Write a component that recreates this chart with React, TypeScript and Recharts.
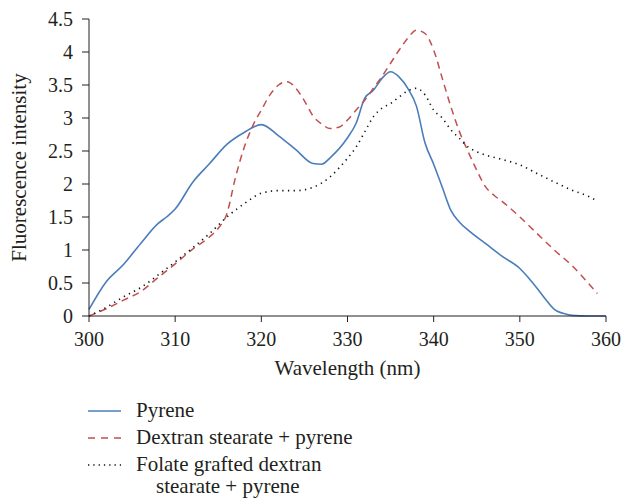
import { Label, Line, LineChart, XAxis, YAxis } from 'recharts'

// wavelength (nm) / intensity pairs
const pyreneNm = [300, 302, 304, 306, 308, 309, 310, 312, 314, 316, 318, 320, 322, 324, 326, 327, 328, 330, 331, 332, 333, 334, 335, 336, 337, 338, 339, 340, 341, 342, 343, 344, 346, 348, 350, 351, 352, 353, 354, 355, 356, 358, 360]
const pyrene = [0.1, 0.52, 0.78, 1.1, 1.4, 1.5, 1.62, 2.02, 2.31, 2.6, 2.78, 2.9, 2.73, 2.52, 2.31, 2.3, 2.4, 2.7, 2.92, 3.3, 3.42, 3.6, 3.7, 3.62, 3.45, 3.18, 2.62, 2.3, 1.95, 1.6, 1.42, 1.3, 1.1, 0.9, 0.72, 0.58, 0.42, 0.25, 0.1, 0.04, 0.01, 0, 0]

const dextranNm = [300, 302, 304, 306, 308, 310, 312, 314, 315, 316, 317, 318, 319, 320, 321, 322, 323, 324, 325, 326, 327, 328, 329, 330, 331, 332, 333, 334, 335, 336, 337, 338, 339, 340, 341, 342, 343, 344, 345, 346, 347, 348, 350, 352, 354, 356, 358, 359]
const dextran = [0, 0.11, 0.24, 0.37, 0.58, 0.79, 1.01, 1.2, 1.33, 1.55, 2.1, 2.55, 2.88, 3.12, 3.35, 3.5, 3.55, 3.45, 3.26, 3.03, 2.91, 2.84, 2.86, 2.97, 3.12, 3.27, 3.45, 3.63, 3.83, 4.03, 4.21, 4.33, 4.28, 4.03, 3.6, 3.17, 2.79, 2.49, 2.21, 1.96, 1.83, 1.73, 1.5, 1.25, 1.0, 0.77, 0.49, 0.34]

const folateNm = [300, 302, 304, 306, 308, 310, 312, 314, 316, 318, 320, 322, 324, 326, 328, 329, 330, 331, 332, 333, 334, 335, 336, 337, 338, 339, 340, 341, 342, 343, 344, 345, 346, 348, 350, 352, 354, 356, 358, 359]
const folate = [0, 0.13, 0.29, 0.43, 0.62, 0.82, 1.03, 1.25, 1.5, 1.7, 1.86, 1.9, 1.9, 1.95, 2.11, 2.24, 2.39, 2.56, 2.79, 3.02, 3.15, 3.22, 3.32, 3.41, 3.45, 3.35, 3.12, 3.0, 2.82, 2.69, 2.56, 2.49, 2.44, 2.37, 2.29, 2.16, 2.03, 1.91, 1.81, 1.74]

const xTicks = [300, 310, 320, 330, 340, 350, 360]
const yTicks = [0, 0.5, 1, 1.5, 2, 2.5, 3, 3.5, 4, 4.5]
const seriesNames = ['Pyrene', 'Dextran stearate + pyrene', 'Folate grafted dextran stearate + pyrene']

const toPoints = (xs: number[], ys: number[]) => xs.map((x, i) => ({ x, y: ys[i] }))

const FONT = 'Liberation Serif, DejaVu Serif, serif'
const AXIS = '#231f20'
const BLUE = '#4a7ebb'
const RED = '#c0504d'

function LegendRow({ dash, color, children }: { dash?: string; color: string; children: React.ReactNode }) {
  return (
    <div style={{ display: 'flex', alignItems: 'flex-start', minHeight: 27 }}>
      <svg width={50} height={14} style={{ marginTop: 5 }}>
        <line x1={2} x2={35} y1={7} y2={7} stroke={color} strokeWidth={1.3} strokeDasharray={dash} />
      </svg>
      <div style={{ lineHeight: '23px' }}>{children}</div>
    </div>
  )
}

export default function App() {
  return (
    <div style={{ position: 'absolute', left: 0, top: 0, width: 622, height: 498, overflow: 'hidden', background: '#fff', fontFamily: FONT }}>
      <LineChart width={622} height={498} margin={{ top: 19, right: 16, left: 29, bottom: 142 }} style={{ fontFamily: FONT }}>
        <XAxis
          type='number'
          dataKey='x'
          domain={[300, 360]}
          ticks={xTicks}
          allowDuplicatedCategory={false}
          height={40}
          stroke={AXIS}
          tickSize={6}
          tickMargin={10}
          tick={{ fill: AXIS, fontSize: 20, fontFamily: FONT }}
        >
          <Label value='Wavelength (nm)' position='bottom' offset={4} fill={AXIS} fontSize={21} fontFamily={FONT} />
        </XAxis>
        <YAxis
          type='number'
          domain={[0, 4.5]}
          ticks={yTicks}
          width={60}
          stroke={AXIS}
          tickSize={7}
          tickMargin={9}
          tick={{ fill: AXIS, fontSize: 20, fontFamily: FONT }}
        >
          <Label value='Fluorescence intensity' angle={-90} position='insideLeft' offset={-10} fill={AXIS} fontSize={21} fontFamily={FONT} style={{ textAnchor: 'middle' }} />
        </YAxis>
        <Line data={toPoints(pyreneNm, pyrene)} dataKey='y' name={seriesNames[0]} type='monotone' stroke={BLUE} strokeWidth={1.6} dot={false} isAnimationActive={false} />
        <Line data={toPoints(dextranNm, dextran)} dataKey='y' name={seriesNames[1]} type='monotone' stroke={RED} strokeWidth={1.5} strokeDasharray='7 5' dot={false} isAnimationActive={false} />
        <Line data={toPoints(folateNm, folate)} dataKey='y' name={seriesNames[2]} type='monotone' stroke='#111' strokeWidth={1.6} strokeDasharray='1.3 4.4' dot={false} isAnimationActive={false} />
      </LineChart>
      <div style={{ position: 'absolute', left: 86, top: 399, fontSize: 21, color: AXIS }}>
        <LegendRow color={BLUE}>{seriesNames[0]}</LegendRow>
        <LegendRow color={RED} dash='7 6'>{seriesNames[1]}</LegendRow>
        <LegendRow color='#111' dash='1.3 4'>
          Folate grafted dextran
          <div style={{ paddingLeft: 20, lineHeight: '21px' }}>stearate + pyrene</div>
        </LegendRow>
      </div>
    </div>
  )
}
